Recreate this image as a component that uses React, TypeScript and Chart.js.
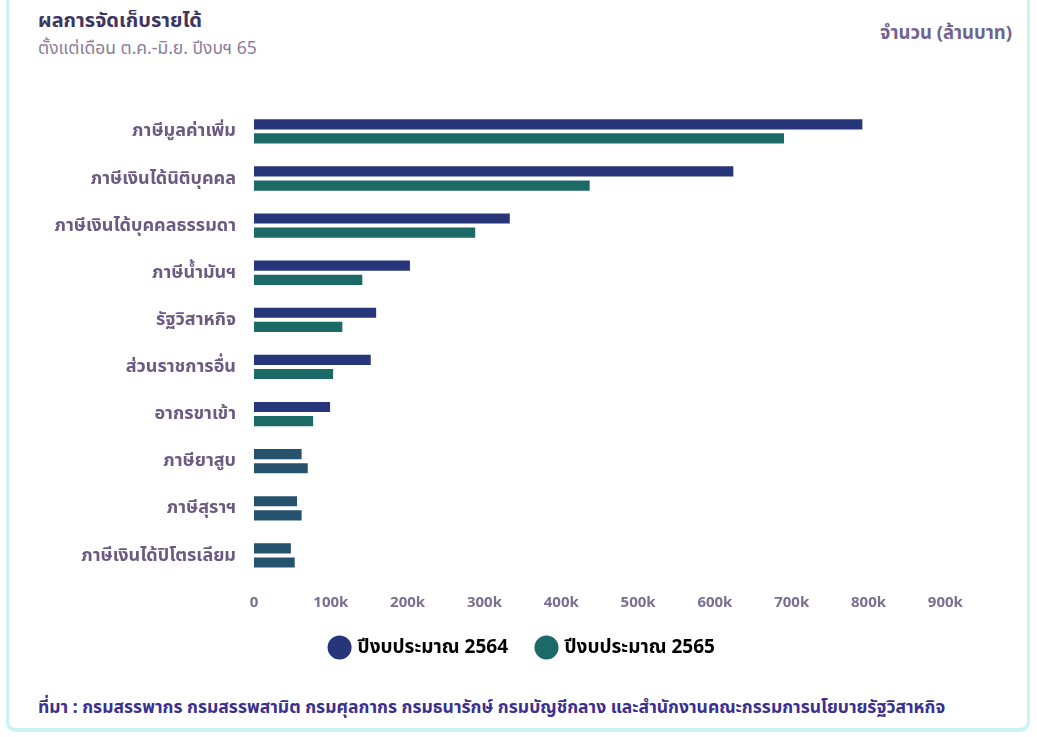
import React, { useEffect, useRef } from "react";
import { Chart, registerables } from "chart.js";

Chart.register(...registerables);

const categories = [
  "ภาษีมูลค่าเพิ่ม",
  "ภาษีเงินได้นิติบุคคล",
  "ภาษีเงินได้บุคคลธรรมดา",
  "ภาษีน้ำมันฯ",
  "รัฐวิสาหกิจ",
  "ส่วนราชการอื่น",
  "อากรขาเข้า",
  "ภาษียาสูบ",
  "ภาษีสุราฯ",
  "ภาษีเงินได้ปิโตรเลียม",
];
const series2564 = [792, 624, 333, 203, 159, 152, 99, 62, 56, 48].map((v) => v * 1000);
const series2565 = [690, 437, 288, 141, 115, 103, 77, 70, 62, 53].map((v) => v * 1000);
const seriesLabels = ["ปีงบประมาณ 2564", "ปีงบประมาณ 2565"];
const xTicks = [0, 100000, 200000, 300000, 400000, 500000, 600000, 700000, 800000, 900000];
const xTickLabels = ["0", "100k", "200k", "300k", "400k", "500k", "600k", "700k", "800k", "900k"];
const xMax = 1005000;

const NAVY = "#27367a";
const TEAL = "#1c6a68";
const SMALL = "#27526e";
const FONT = "'Noto Sans', 'Noto Sans Thai', 'Loma', 'Garuda', sans-serif";

export default function App() {
  const ref = useRef<HTMLCanvasElement | null>(null);

  useEffect(() => {
    document.body.style.margin = "0";
    const ctx = ref.current!;
    const chart = new Chart(ctx, {
      type: "bar",
      data: {
        labels: categories,
        datasets: [
          {
            label: seriesLabels[0],
            data: series2564,
            backgroundColor: series2564.map((_, i) => (i >= 7 ? SMALL : NAVY)),
            categoryPercentage: 0.6,
            barPercentage: 0.72,
          },
          {
            label: seriesLabels[1],
            data: series2565,
            backgroundColor: series2565.map((_, i) => (i >= 7 ? SMALL : TEAL)),
            categoryPercentage: 0.6,
            barPercentage: 0.72,
          },
        ],
      },
      options: {
        indexAxis: "y",
        animation: false,
        responsive: false,
        maintainAspectRatio: false,
        layout: { padding: { top: 11, right: 8, left: 0, bottom: 0 } },
        scales: {
          x: {
            min: 0,
            max: xMax,
            grid: { display: false, drawTicks: false },
            border: { display: false },
            afterBuildTicks: (scale: any) => {
              scale.ticks = xTicks.map((v) => ({ value: v }));
            },
            afterFit: (scale: any) => {
              scale.height = 29;
              scale._computeLabelArea = () => undefined;
            },
            ticks: {
              padding: 15,
              color: "#7c6e92",
              font: { family: FONT, size: 15, weight: "bold" },
              callback: (v: any) => xTickLabels[xTicks.indexOf(Number(v))] ?? "",
            },
          },
          y: {
            grid: { display: false, drawTicks: false },
            border: { display: false },
            afterFit: (scale: any) => {
              scale.width = 234;
            },
            ticks: {
              padding: 18,
              color: "#6b5a82",
              font: { family: FONT, size: 18, weight: "bold" },
            },
          },
        },
        plugins: {
          legend: {
            position: "bottom",
            labels: {
              usePointStyle: true,
              pointStyle: "circle",
              boxWidth: 17,
              boxHeight: 17,
              padding: 30,
              color: "#2f2a4a",
              font: { family: FONT, size: 19, weight: "bold" },
              generateLabels: () =>
                seriesLabels.map((t, i) => ({
                  text: t,
                  fillStyle: i === 0 ? NAVY : TEAL,
                  strokeStyle: i === 0 ? NAVY : TEAL,
                  lineWidth: 0,
                  pointStyle: "circle",
                  datasetIndex: i,
                  hidden: false,
                })),
            },
          },
          tooltip: { enabled: false },
        },
      },
    } as any);
    return () => chart.destroy();
  }, []);

  return (
    <div
      style={{
        position: "fixed",
        left: 0,
        top: 0,
        width: 1037,
        height: 737,
        background: "#ffffff",
        overflow: "hidden",
        fontFamily: FONT,
      }}
    >
      <div
        style={{
          position: "absolute",
          left: 6,
          top: -20,
          width: 1024,
          height: 752,
          borderLeft: "3px solid #c9f1f6",
          borderRight: "3px solid #c9f1f6",
          borderBottom: "4px solid #c9f1f6",
          borderRadius: 10,
          boxSizing: "border-box",
        }}
      />
      <div
        style={{
          position: "absolute",
          left: 38,
          top: 6,
          fontSize: 20,
          fontWeight: "bold",
          color: "#3e3560",
        }}
      >
        ผลการจัดเก็บรายได้
      </div>
      <div
        style={{
          position: "absolute",
          left: 38,
          top: 35,
          fontSize: 17.5,
          color: "#8a7c9c",
        }}
      >
        ตั้งแต่เดือน ต.ค.-มิ.ย. ปีงบฯ 65
      </div>
      <div
        style={{
          position: "absolute",
          right: 25,
          top: 19,
          fontSize: 18.5,
          fontWeight: "bold",
          color: "#6f6390",
        }}
      >
        จำนวน (ล้านบาท)
      </div>
      <canvas
        ref={ref}
        width={1014}
        height={588}
        style={{ position: "absolute", left: 20, top: 79, width: 1014, height: 588 }}
      />
      <div
        style={{
          position: "absolute",
          left: 38,
          top: 694,
          fontSize: 17.5,
          fontWeight: "bold",
          color: "#3b2f8f",
          whiteSpace: "nowrap",
        }}
      >
        ที่มา : กรมสรรพากร กรมสรรพสามิต กรมศุลกากร กรมธนารักษ์ กรมบัญชีกลาง และสำนักงานคณะกรรมการนโยบายรัฐวิสาหกิจ
      </div>
    </div>
  );
}
